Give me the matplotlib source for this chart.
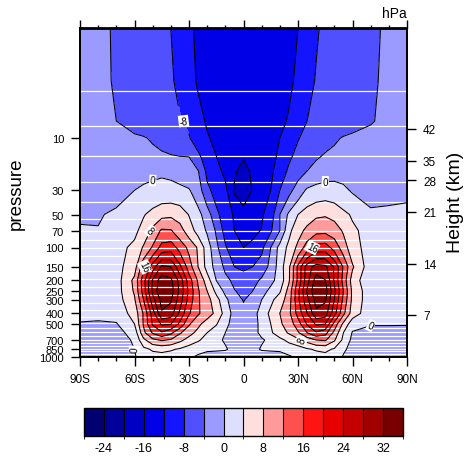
import numpy as np
import matplotlib
matplotlib.use("Agg")
import matplotlib.pyplot as plt
import matplotlib.cm as cm
from matplotlib.colors import ListedColormap, BoundaryNorm
from matplotlib.ticker import NullLocator

plt.rcParams['font.family'] = ['Liberation Sans', 'DejaVu Sans']
plt.rcParams['contour.negative_linestyle'] = 'solid'
plt.rcParams['axes.unicode_minus'] = False

# zonal mean wind (m/s), one list per pressure level
lats = [-90, -80, -70, -60, -55, -50, -45, -40, -35, -30, -25, -20, -15, -10, -5, 0,
        5, 10, 15, 20, 25, 30, 35, 40, 45, 50, 55, 60, 70, 80, 90]
plevs = [1, 3, 7, 10, 15, 20, 30, 50, 70, 100, 150, 200, 250, 300, 400, 500, 600, 700, 850, 1000]

u_p1 = [-2.2, -3.0, -4.5, -5.5, -6.0, -6.6, -7.3, -8.0, -9.6, -11.4, -12.6, -13.3, -13.8, -14.2, -14.5, -14.6,
        -14.5, -14.2, -13.8, -13.3, -12.7, -12.0, -10.2, -8.3, -7.4, -6.8, -6.2, -5.7, -4.7, -3.4, -2.5]
u_p3 = [-2.2, -3.0, -4.4, -5.3, -5.7, -6.2, -6.8, -7.5, -9.0, -10.8, -12.4, -13.3, -13.9, -14.3, -14.6, -14.7,
        -14.6, -14.3, -13.9, -13.3, -12.6, -11.4, -9.5, -7.7, -7.0, -6.5, -6.0, -5.5, -4.5, -3.3, -2.5]
u_p7 = [-2.5, -3.0, -4.0, -5.0, -5.5, -6.0, -6.5, -7.0, -7.6, -8.6, -10.6, -12.5, -13.7, -14.5, -14.9, -15.0,
        -14.9, -14.5, -13.8, -13.0, -11.6, -9.6, -8.0, -7.0, -6.5, -6.0, -5.5, -5.0, -4.2, -3.3, -2.8]
u_p10 = [-2.5, -2.8, -3.2, -3.6, -3.8, -4.3, -5.0, -6.0, -7.0, -7.8, -9.5, -11.6, -13.0, -14.0, -14.7, -15.0,
         -14.7, -14.0, -13.0, -12.0, -10.0, -8.2, -7.0, -6.0, -5.0, -4.4, -3.8, -3.5, -3.2, -2.8, -2.5]
u_p15 = [-2.5, -2.5, -2.6, -2.8, -3.0, -3.2, -3.4, -3.6, -3.8, -3.9, -7.2, -9.6, -11.9, -13.6, -15.2, -15.8,
         -15.3, -14.2, -13.0, -11.3, -8.6, -6.8, -5.4, -4.3, -3.6, -3.2, -3.0, -2.8, -2.6, -2.5, -2.5]
u_p20 = [-2.5, -2.3, -2.0, -1.5, -1.1, -0.8, -0.6, -0.9, -1.5, -2.5, -3.8, -9.0, -11.0, -12.8, -15.6, -17.0,
         -15.5, -14.3, -12.7, -10.3, -7.3, -5.5, -4.0, -2.8, -2.0, -1.5, -1.3, -1.5, -2.0, -2.2, -2.4]
u_p30 = [-1.5, -1.2, -0.8, 0.0, 0.6, 1.0, 1.3, 1.2, 0.8, 0.3, -2.0, -7.0, -9.5, -11.0, -16.5, -18.2,
         -15.8, -13.8, -12.0, -8.0, -5.2, -2.2, 0.6, 1.5, 1.9, 1.6, 0.7, -0.4, -1.0, -1.2, -1.3]
u_p50 = [-0.4, -0.2, 0.4, 2.5, 3.7, 5.3, 6.8, 7.2, 6.4, 3.8, 1.2, -2.0, -7.0, -10.0, -12.5, -14.5,
         -13.8, -12.5, -10.0, -4.0, 0.8, 4.0, 6.0, 7.3, 7.6, 6.8, 5.0, 3.5, 0.5, 0.9, 1.6]
u_p70 = [0.3, 0.1, 1.5, 3.0, 5.5, 9.0, 12.6, 12.3, 9.5, 6.0, 2.5, -0.5, -4.5, -9.5, -12.0, -13.5,
         -13.0, -11.8, -8.5, -4.0, 3.0, 6.5, 9.0, 10.8, 11.0, 10.0, 7.5, 4.8, 2.3, 1.8, 1.8]
u_p100 = [1.0, 1.5, 2.5, 5.0, 8.5, 12.5, 17.5, 18.3, 14.5, 11.0, 7.5, 2.0, -3.0, -7.5, -11.0, -12.0,
          -11.0, -9.0, -4.0, 1.5, 5.0, 9.0, 14.0, 17.5, 18.0, 14.5, 10.0, 5.5, 2.3, 2.0, 1.8]
u_p150 = [1.5, 2.0, 2.7, 6.2, 15.0, 22.0, 28.8, 28.0, 21.0, 14.0, 8.0, 2.5, -1.5, -4.8, -8.0, -8.6,
          -8.0, -6.0, -3.0, 2.0, 7.2, 17.0, 26.0, 29.8, 29.0, 23.5, 15.5, 8.5, 1.5, 1.8, 1.8]
u_p200 = [2.0, 2.0, 2.2, 9.0, 18.5, 28.5, 34.5, 33.0, 26.5, 18.0, 11.5, 6.0, 0.0, -3.0, -4.8, -6.5,
          -5.2, -3.4, -1.0, 1.5, 7.5, 17.0, 26.5, 34.0, 32.2, 23.5, 14.5, 6.0, 1.0, 1.5, 2.0]
u_p250 = [2.0, 1.8, 2.2, 8.5, 18.0, 29.0, 35.5, 34.0, 27.0, 19.0, 12.5, 8.0, 3.0, -1.0, -3.8, -5.0,
          -4.0, -1.5, 1.0, 3.5, 9.5, 19.0, 28.5, 35.5, 34.0, 25.0, 16.0, 7.0, 1.5, 1.5, 2.0]
u_p300 = [2.0, 1.8, 2.0, 7.5, 16.0, 26.5, 33.5, 32.5, 26.0, 18.5, 12.5, 9.5, 5.5, 1.0, -2.5, -4.2,
          -2.8, 0.0, 3.0, 6.0, 10.0, 19.0, 27.0, 33.5, 32.5, 24.0, 15.0, 7.0, 1.5, 1.5, 1.8]
u_p400 = [1.5, 1.0, 1.5, 5.5, 12.5, 22.0, 31.5, 30.0, 23.0, 16.5, 12.5, 10.0, 7.0, 2.5, -1.5, -3.0,
          -1.5, 1.5, 5.0, 8.0, 11.0, 17.5, 24.0, 31.0, 30.0, 21.5, 13.0, 6.0, 1.5, 1.0, 1.0]
u_p500 = [-0.4, -0.5, -0.3, 4.0, 12.5, 20.5, 24.5, 24.2, 19.0, 12.5, 9.0, 6.0, 4.3, 1.0, -1.5, -2.5,
          -1.5, 1.0, 4.0, 7.3, 10.0, 14.0, 20.5, 24.5, 24.0, 14.5, 7.0, 1.5, 0.3, 0.3, 0.2]
u_p600 = [-1.2, -1.5, -1.3, 1.5, 11.0, 16.5, 19.5, 17.0, 12.5, 9.5, 6.8, 4.0, 2.0, 0.0, -1.5, -2.2,
          -1.5, 1.0, 3.5, 6.0, 8.5, 11.5, 16.0, 19.5, 17.5, 11.0, 4.0, -0.3, -1.5, -1.5, -1.2]
u_p700 = [-1.5, -2.0, -1.8, 0.5, 7.0, 11.0, 12.5, 11.5, 9.0, 6.5, 4.5, 2.5, 1.0, -0.5, -2.0, -2.5,
          -2.0, -0.5, 1.0, 3.0, 5.0, 7.0, 9.5, 12.0, 12.5, 8.5, 3.0, -1.0, -2.0, -2.0, -1.5]
u_p850 = [-2.0, -2.5, -2.0, 0.0, 3.0, 4.5, 5.0, 4.5, 3.5, 2.0, 1.0, 1.0, 1.0, 0.5, -1.5, -2.5,
          -1.5, 0.5, 1.0, 1.0, 1.5, 2.0, 3.5, 4.5, 5.0, 3.5, 0.5, -1.0, -2.5, -2.5, -2.0]
u_p1000 = [-1.5, -2.5, -2.0, -0.3, 1.5, 2.5, 2.5, 2.0, 1.5, 0.5, -0.5, -2.5, -3.5, -3.0, -2.5, -2.5,
           -2.5, -3.0, -3.5, -2.5, -0.5, 0.5, 1.5, 2.0, 2.5, 2.0, -0.3, -1.0, -2.5, -2.5, -1.5]

levels = list(range(-24, 33, 4))
colors = ['#000070', '#00009A', '#0000C4', '#0000E6', '#1414FF', '#5050FF', '#9A9AFF', '#DEDEFF',
          '#FFDEDE', '#FF9A9A', '#FF5050', '#FF1414', '#E60000', '#C40000', '#A00000', '#780000']
cbar_ticks = [-24, -16, -8, 0, 8, 16, 24, 32]
label_levels = [-8, 0, 8, 16]

p_ticks = [10, 30, 50, 70, 100, 150, 200, 250, 300, 400, 500, 700, 850, 1000]
lat_ticks = [-90, -60, -30, 0, 30, 60, 90]
lat_labels = ['90S', '60S', '30S', '0', '30N', '60N', '90N']
hgt_labels = ['7', '14', '21', '28', '35', '42']
hgt_p = [411, 141, 47.1, 24.4, 16.2, 8.2]

# white streaks across the fill (data levels)
level_lines = [3.7, 7.8, 14.6, 25.2, 38.6, 54.4, 71.3, 86, 101, 119.6, 140, 164, 195, 231, 274,
               320, 373, 430, 494, 541, 595, 643, 697, 747, 790, 840, 889, 935]

u = np.array([u_p1, u_p3, u_p7, u_p10, u_p15, u_p20, u_p30, u_p50, u_p70, u_p100, u_p150,
              u_p200, u_p250, u_p300, u_p400, u_p500, u_p600, u_p700, u_p850, u_p1000])

fig = plt.figure(figsize=(4.66, 4.60), dpi=100)
ax = fig.add_axes([80 / 466, 1 - 358 / 460, 327 / 466, 328.5 / 460])

ax.contourf(lats, plevs, u, levels=[-1000] + levels + [1000], colors=colors, zorder=1)
for p in level_lines:
    ax.axhline(p, color='white', lw=0.9, zorder=1.5)
cs = ax.contour(lats, plevs, u, levels=levels, colors='black', linewidths=0.75, zorder=3)
labs = ax.clabel(cs, levels=label_levels, fmt='%d', fontsize=7, inline=True, inline_spacing=1)
for t in labs:
    t.set_bbox(dict(boxstyle='square,pad=0.08', fc='white', ec='none'))

ax.set_yscale('log')
ax.set_ylim(1000, 1)
ax.set_yticks(p_ticks)
ax.set_yticklabels([str(p) for p in p_ticks])
ax.yaxis.set_minor_locator(NullLocator())
ax.set_xlim(-90, 90)
ax.set_xticks(lat_ticks)
ax.set_xticklabels(lat_labels)
ax.set_xticks(range(-90, 91, 10), minor=True)
ax.tick_params(which='major', direction='out', length=6.5, width=1, labelsize=8.5, pad=5,
               top=True, right=False)
ax.tick_params(axis='y', labelsize=8)
ax.tick_params(which='minor', direction='out', length=3, width=1, top=True, right=False)
for s in ax.spines.values():
    s.set_linewidth(1.3)

ax2 = ax.twinx()
ax2.set_yscale('log')
ax2.set_ylim(1000, 1)
ax2.set_yticks(hgt_p)
ax2.set_yticklabels(hgt_labels)
ax2.yaxis.set_minor_locator(NullLocator())
ax2.tick_params(direction='out', length=6.5, width=1, labelsize=8.5, pad=5)
for s in ax2.spines.values():
    s.set_linewidth(1.3)

fig.text(16 / 466, 1 - 194 / 460, 'pressure', rotation=90, ha='center', va='center', fontsize=13.5)
fig.text(455 / 466, 1 - 202 / 460, 'Height (km)', rotation=90, ha='center', va='center', fontsize=14)
fig.text(407 / 466, 1 - 14 / 460, 'hPa', ha='right', va='center', fontsize=10)

# label bar
cax = fig.add_axes([84 / 466, 1 - 437 / 460, 319 / 466, 28 / 460])
norm = BoundaryNorm([-28] + levels + [36], len(colors))
sm = cm.ScalarMappable(norm=norm, cmap=ListedColormap(colors))
cb = fig.colorbar(sm, cax=cax, orientation='horizontal', drawedges=True, ticks=cbar_ticks)
cb.set_ticklabels([str(v) for v in cbar_ticks])
cb.outline.set_linewidth(1)
cb.dividers.set_color('black')
cb.dividers.set_linewidth(0.8)
cax.tick_params(length=0, labelsize=9, pad=4)

fig.savefig('out.png', dpi=100)
